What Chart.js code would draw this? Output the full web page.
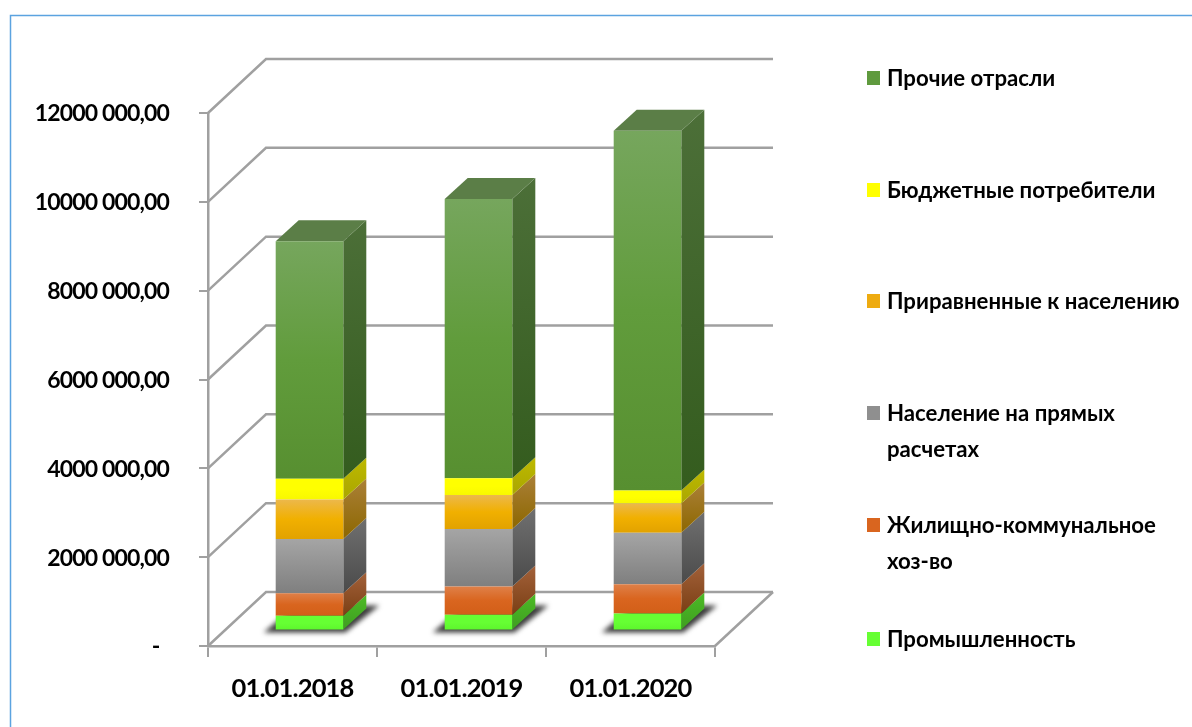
<!DOCTYPE html>
<html>
<head>
<meta charset="utf-8">
<title>Chart</title>
<script src="https://cdn.jsdelivr.net/npm/chart.js@4"></script>
<style>
    html, body { margin: 0; padding: 0; background: #fff; }
    /* the source picture is a soft, upscaled screenshot */
    canvas { display: block; filter: blur(0.4px); }
</style>
</head>
<body>
<canvas id="chart" width="1192" height="727"></canvas>
<script>
// ------------------------------------------------------------
// DATA
// ------------------------------------------------------------
const categories = ["01.01.2018", "01.01.2019", "01.01.2020"];

const promyshlennost = [330000, 353000, 382000];
const zhkh = [510000, 636000, 660000];
const naselenie = [1220000, 1297000, 1160000];
const privavnennye = [892000, 764000, 660000];
const byudzhetnye = [463000, 375000, 292000];
const prochie = [5348000, 6292000, 8097000];

const yTicks = [0, 2000000, 4000000, 6000000, 8000000, 10000000, 12000000];

const seriesNames = [
    "Промышленность",
    "Жилищно-коммунальное хоз-во",
    "Население на прямых расчетах",
    "Приравненные к населению",
    "Бюджетные потребители",
    "Прочие отрасли"
];
const seriesValues = [promyshlennost, zhkh, naselenie, privavnennye, byudzhetnye, prochie];

// ------------------------------------------------------------
// STYLE
// ------------------------------------------------------------
const FONT = "Lato, 'Open Sans', sans-serif";
const GRID = "#a0a0a0";

// front face gradient: top, middle, bottom
const frontColors = [
    ["#66ff33", "#66ff33", "#5cf52c"],
    ["#df8048", "#d9651f", "#d25f18"],
    ["#a5a5a5", "#929292", "#7f7f7f"],
    ["#ecb84c", "#f1b000", "#e2a200"],
    ["#ffff00", "#ffff00", "#f8f800"],
    ["#76a65d", "#619c3c", "#578f30"]
];
// side face gradient: top, bottom
const sideColors = [
    ["#4cbb26", "#3f9e20"],
    ["#a3613a", "#7a3f14"],
    ["#707070", "#4a4a4a"],
    ["#ab8038", "#8c6700"],
    ["#bdb900", "#aaa600"],
    ["#4c6f38", "#345c1e"]
];
const legendColors = ["#66ff33", "#d9651f", "#8f8f8f", "#eeab10", "#ffff00", "#5f9a3e"];
const topColor = "#5b7e47";

// 3D offsets in pixels
const wallDepth = { x: 58, y: -54 };     // front plane -> back wall
const barPlane = { x: 17, y: -15.5 };    // front plane -> front of the bars
const barDepth = { x: 23, y: -21 };      // front of the bar -> back of the bar

// legend rows, top to bottom (first line y, text lines)
const legendRows = [
    { series: 5, y: 79, lines: ["Прочие отрасли"] },
    { series: 4, y: 191, lines: ["Бюджетные потребители"] },
    { series: 3, y: 302, lines: ["Приравненные к населению"] },
    { series: 2, y: 414, lines: ["Население на прямых", "расчетах"] },
    { series: 1, y: 526, lines: ["Жилищно-коммунальное", "хоз-во"] },
    { series: 0, y: 640, lines: ["Промышленность"] }
];

// ------------------------------------------------------------
// HELPERS
// ------------------------------------------------------------

// 12000000 -> "12000 000,00", zero is a dash like in the accounting format
function formatTick(v) {
    if (v === 0) return "-  ";
    const m = Math.floor(v / 1000000);
    return m + "000 000,00";
}

function stackBase(dsIndex, i) {
    let sum = 0;
    for (let k = 0; k < dsIndex; k++) sum += seriesValues[k][i];
    return sum;
}

function frontGradient(c) {
    const stops = frontColors[c.datasetIndex];
    if (c.dataIndex === undefined) return stops[1];
    const y = c.chart.scales.y;
    const base = stackBase(c.datasetIndex, c.dataIndex);
    const y0 = y.getPixelForValue(base + seriesValues[c.datasetIndex][c.dataIndex]);
    const y1 = y.getPixelForValue(base);
    // scale has no size yet on the first pass
    if (!isFinite(y0) || !isFinite(y1)) return stops[1];
    const g = c.chart.ctx.createLinearGradient(0, y0, 0, y1);
    g.addColorStop(0, stops[0]);
    g.addColorStop(0.5, stops[1]);
    g.addColorStop(1, stops[2]);
    return g;
}

function poly(ctx, pts) {
    ctx.beginPath();
    ctx.moveTo(pts[0][0], pts[0][1]);
    for (let i = 1; i < pts.length; i++) ctx.lineTo(pts[i][0], pts[i][1]);
    ctx.closePath();
}

// ------------------------------------------------------------
// PLUGIN: frame, walls, shadows, side faces, legend
// ------------------------------------------------------------
const scenePlugin = {
    id: "scene",

    // axis labels need to be a bit tighter than Lato's default
    beforeDraw(chart) {
        chart.ctx.letterSpacing = "-0.85px";
    },

    beforeDatasetsDraw(chart) {
        const ctx = chart.ctx;
        const area = chart.chartArea;
        const y = chart.scales.y;

        // blue frame of the slide
        ctx.save();
        ctx.strokeStyle = "#5ba3e0";
        ctx.lineWidth = 1.5;
        ctx.beginPath();
        ctx.moveTo(10.5, 727);
        ctx.lineTo(10.5, 15.5);
        ctx.lineTo(1192, 15.5);
        ctx.stroke();

        // grid lines: diagonal on the left wall + horizontal on the back wall
        ctx.strokeStyle = GRID;
        ctx.lineWidth = 2.5;
        yTicks.forEach(t => {
            const py = y.getPixelForValue(t);
            ctx.beginPath();
            ctx.moveTo(area.left, py);
            ctx.lineTo(area.left + wallDepth.x, py + wallDepth.y);
            ctx.lineTo(area.right + wallDepth.x, py + wallDepth.y);
            ctx.stroke();
        });

        // right edge of the floor
        const py0 = y.getPixelForValue(0);
        ctx.beginPath();
        ctx.moveTo(area.right, py0);
        ctx.lineTo(area.right + wallDepth.x, py0 + wallDepth.y);
        ctx.stroke();

        // bar shadows on the floor
        const first = chart.getDatasetMeta(0).data;
        first.forEach(el => {
            const l = el.x - el.width / 2 + barPlane.x;
            const r = el.x + el.width / 2 + barPlane.x;
            const b = py0 + barPlane.y;
            ctx.save();
            ctx.filter = "blur(2.5px)";
            ctx.fillStyle = "#3c3c3c";
            poly(ctx, [[l - 12, b + 2], [r + 2, b + 2], [r + 36, b - 25], [l + 20, b - 25]]);
            ctx.fill();
            ctx.restore();
        });
        ctx.restore();

        // side and top faces of the bars
        ctx.save();
        ctx.translate(barPlane.x, barPlane.y);
        chart.data.datasets.forEach((ds, d) => {
            chart.getDatasetMeta(d).data.forEach(el => {
                const right = el.x + el.width / 2;
                const left = el.x - el.width / 2;
                const g = ctx.createLinearGradient(0, el.y + barDepth.y, 0, el.base);
                g.addColorStop(0, sideColors[d][0]);
                g.addColorStop(1, sideColors[d][1]);
                ctx.fillStyle = g;
                poly(ctx, [
                    [right, el.y],
                    [right + barDepth.x, el.y + barDepth.y],
                    [right + barDepth.x, el.base + barDepth.y],
                    [right, el.base]
                ]);
                ctx.fill();

                if (d === chart.data.datasets.length - 1) {
                    ctx.fillStyle = topColor;
                    poly(ctx, [
                        [left, el.y],
                        [left + barDepth.x, el.y + barDepth.y],
                        [right + barDepth.x, el.y + barDepth.y],
                        [right, el.y]
                    ]);
                    ctx.fill();
                }
            });
        });

        // front faces are drawn by the library on the shifted plane
        // (restored in afterDatasetsDraw)
    },

    afterDatasetsDraw(chart) {
        chart.ctx.restore();
    },

    afterDraw(chart) {
        const ctx = chart.ctx;
        ctx.save();
        ctx.letterSpacing = "0px";
        ctx.font = "bold 22.2px " + FONT;
        ctx.textBaseline = "middle";
        ctx.textAlign = "left";
        legendRows.forEach(row => {
            ctx.fillStyle = legendColors[row.series];
            ctx.fillRect(867, row.y - 8, 13, 14);
            ctx.fillStyle = "#000";
            row.lines.forEach((line, i) => {
                ctx.fillText(line, 887, row.y + i * 36);
            });
        });
        ctx.restore();
    }
};

// ------------------------------------------------------------
// INIT CHART
// ------------------------------------------------------------
new Chart(document.getElementById("chart"), {
    type: "bar",
    data: {
        labels: categories,
        datasets: seriesValues.map((values, i) => ({
            label: seriesNames[i],
            data: values,
            backgroundColor: frontGradient,
            clip: false,
            barPercentage: 0.4,
            categoryPercentage: 1
        }))
    },
    options: {
        responsive: false,
        animation: false,
        layout: { padding: { top: 113, right: 477, left: 0, bottom: 0 } },
        plugins: {
            legend: { display: false },
            tooltip: { enabled: false }
        },
        scales: {
            x: {
                stacked: true,
                afterFit(s) { s.height = 81; },
                border: { color: GRID, width: 2.5 },
                grid: { drawOnChartArea: false, color: GRID, tickLength: 11, lineWidth: 2 },
                ticks: {
                    color: "#000",
                    padding: 16,
                    maxRotation: 0,
                    font: { family: FONT, size: 25.5, weight: "bold" }
                }
            },
            y: {
                stacked: true,
                min: 0,
                max: 12000000,
                afterFit(s) { s.width = 208; },
                afterBuildTicks(s) { s.ticks = yTicks.map(v => ({ value: v })); },
                border: { color: GRID, width: 2.5 },
                grid: { drawOnChartArea: false, color: GRID, tickLength: 9, lineWidth: 2 },
                ticks: {
                    color: "#000",
                    padding: 30,
                    labelOffset: 1,
                    callback: formatTick,
                    font: { family: FONT, size: 23, weight: "bold" }
                }
            }
        }
    },
    plugins: [scenePlugin]
});
</script>
</body>
</html>
